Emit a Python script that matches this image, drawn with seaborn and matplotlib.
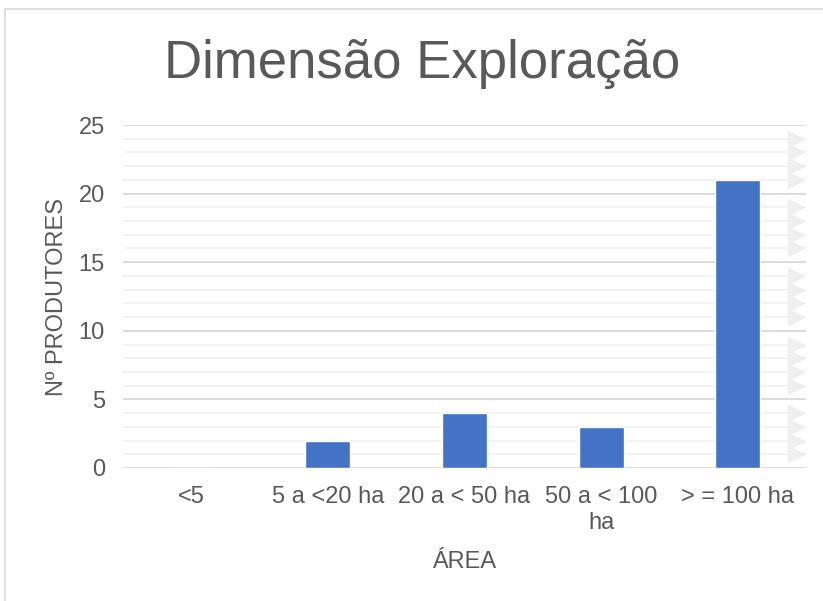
import matplotlib
matplotlib.use("Agg")
import matplotlib.pyplot as plt
import seaborn as sns
import pandas as pd
import numpy as np
from matplotlib.patches import Rectangle
from matplotlib.ticker import MultipleLocator

categories = ["<5", "5 a <20 ha", "20 a < 50 ha", "50 a < 100\nha", "> = 100 ha"]
values = [0, 2, 4, 3, 21]
title = "Dimensão Exploração"
xlabel = "ÁREA"
ylabel = "Nº PRODUTORES"

sns.set_theme(style="white")
plt.rcParams['font.family'] = ['Liberation Sans', 'DejaVu Sans']

fig = plt.figure(figsize=(8.23, 6.01), dpi=100)
fig.patches.append(Rectangle((5/823, -0.1), 1.2, 1 - 9/601 + 0.1, transform=fig.transFigure,
                             fill=False, edgecolor='#d9d9d9', linewidth=1.2, zorder=0))
ax = fig.add_axes([123/823, 1 - 468/601, (806 - 123)/823, (468 - 125)/601])

df = pd.DataFrame({"cat": categories, "val": values})
sns.barplot(data=df, x="cat", y="val", color="#4472C4", saturation=1, width=0.33, ax=ax, zorder=3)

ax.set_ylim(0, 25)
ax.set_xlim(-0.5, 4.5)
ax.yaxis.set_major_locator(MultipleLocator(5))
ax.yaxis.set_minor_locator(MultipleLocator(1))
ax.grid(which='major', axis='y', color='#d9d9d9', linewidth=1.3, zorder=0)
ax.grid(which='minor', axis='y', color='#f2f2f2', linewidth=1.3, zorder=0)
ax.set_axisbelow(True)
for s in ax.spines.values():
    s.set_visible(False)

# small light triangles at the right edge on minor gridlines
minor_y = [v for v in range(1, 25) if v % 5 != 0]
ax.plot([4.43] * len(minor_y), minor_y, linestyle='none', marker='>', markersize=12,
        color='#efefef', clip_on=False, zorder=1)

ax.tick_params(axis='both', which='both', length=0, labelsize=17, labelcolor='#595959')
ax.tick_params(axis='x', pad=13)
ax.tick_params(axis='y', pad=13)
ax.set_xlabel(xlabel, fontsize=17, color='#595959', labelpad=12)
ax.set_ylabel(ylabel, fontsize=17, color='#595959', labelpad=8)
for t in ax.get_xticklabels():
    t.set_linespacing(1.25)

fig.text(422/823, 1 - 64/601, title, ha='center', va='center', fontsize=38, color='#595959')

fig.savefig("out.png", dpi=100)
